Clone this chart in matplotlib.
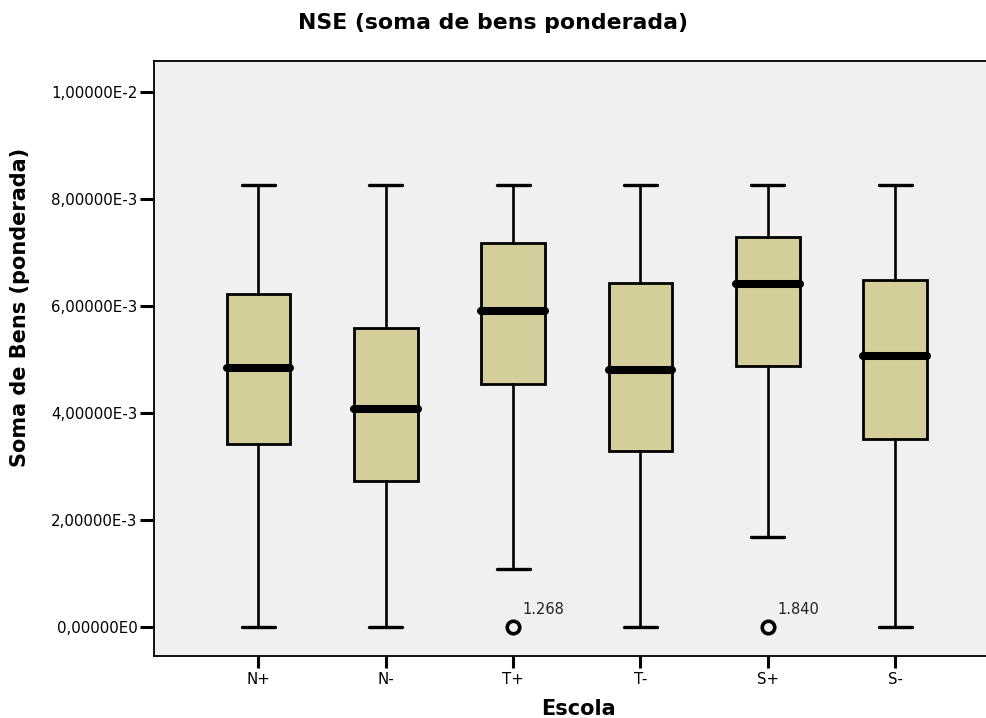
"""NSE boxplot by school group (SPSS-style look)."""

import matplotlib
matplotlib.use("Agg")
import matplotlib.pyplot as plt

FILL = "#D4CF9A"
PANEL = "#F0F0F0"
FONT = "DejaVu Sans"

groups = ["N+", "N-", "T+", "T-", "S+", "S-"]
whisker_low = [0.0, 0.0, 1.08e-3, 0.0, 1.685e-3, 0.0]
q1 = [3.42e-3, 2.73e-3, 4.55e-3, 3.28e-3, 4.88e-3, 3.52e-3]
median = [4.84e-3, 4.07e-3, 5.91e-3, 4.81e-3, 6.41e-3, 5.07e-3]
q3 = [6.22e-3, 5.60e-3, 7.18e-3, 6.43e-3, 7.30e-3, 6.49e-3]
whisker_high = [8.27e-3, 8.27e-3, 8.27e-3, 8.27e-3, 8.27e-3, 8.27e-3]
outliers = [[], [], [0.0], [], [0.0], []]
outlier_ids = [[], [], ["1.268"], [], ["1.840"], []]

yticks = [0.0, 2e-3, 4e-3, 6e-3, 8e-3, 1e-2]
ytick_labels = ["0,00000E0", "2,00000E-3", "4,00000E-3",
                "6,00000E-3", "8,00000E-3", "1,00000E-2"]

plt.rcParams["font.family"] = [FONT]

fig = plt.figure(figsize=(9.86, 7.18), dpi=100, facecolor="white")
ax = fig.add_axes([0.1557, 0.0864, 0.8585, 0.8287])
ax.set_facecolor(PANEL)

stats = []
for i, g in enumerate(groups):
    stats.append(dict(label=g, whislo=whisker_low[i], q1=q1[i], med=median[i],
                      q3=q3[i], whishi=whisker_high[i], fliers=outliers[i]))

positions = list(range(1, len(groups) + 1))
ax.bxp(stats, positions=positions, widths=0.5, capwidths=0.26,
       patch_artist=True, showfliers=True,
       boxprops=dict(facecolor=FILL, edgecolor="black", linewidth=2.0),
       whiskerprops=dict(color="black", linewidth=1.9),
       capprops=dict(color="black", linewidth=2.4, solid_capstyle="round"),
       medianprops=dict(color="black", linewidth=5.8, solid_capstyle="round"),
       flierprops=dict(marker="o", markerfacecolor="none", markeredgecolor="black",
                       markersize=9, markeredgewidth=2.6))

for pos, vals, ids in zip(positions, outliers, outlier_ids):
    for v, label in zip(vals, ids):
        ax.annotate(label, (pos, v), xytext=(7, 7), textcoords="offset points",
                    fontsize=10.5, color="#222222", ha="left", va="bottom")

ax.set_xlim(0.177, 6.823)
ax.set_ylim(-0.549e-3, 10.59e-3)
ax.set_yticks(yticks)
ax.set_yticklabels(ytick_labels)
ax.set_xticks(positions)
ax.set_xticklabels(groups)

for side in ["left", "bottom", "top", "right"]:
    ax.spines[side].set_color("black")
    ax.spines[side].set_linewidth(1.3)
ax.tick_params(axis="y", direction="out", length=10, width=2.2, pad=1.5,
               labelsize=10.8, colors="black")
ax.tick_params(axis="x", direction="out", length=8.5, width=2.2, pad=3,
               labelsize=10.8, colors="black")

fig.text(0.5, 1 - 23 / 718, "NSE (soma de bens ponderada)", ha="center", va="center",
         fontsize=15.8, fontweight="bold")
fig.text(20 / 986, 1 - 307 / 718, "Soma de Bens (ponderada)", ha="center", va="center",
         rotation=90, fontsize=15, fontweight="bold")
fig.text(578 / 986, 1 - 709 / 718, "Escola", ha="center", va="center",
         fontsize=15, fontweight="bold")

fig.savefig("out.png", dpi=100, facecolor="white")
